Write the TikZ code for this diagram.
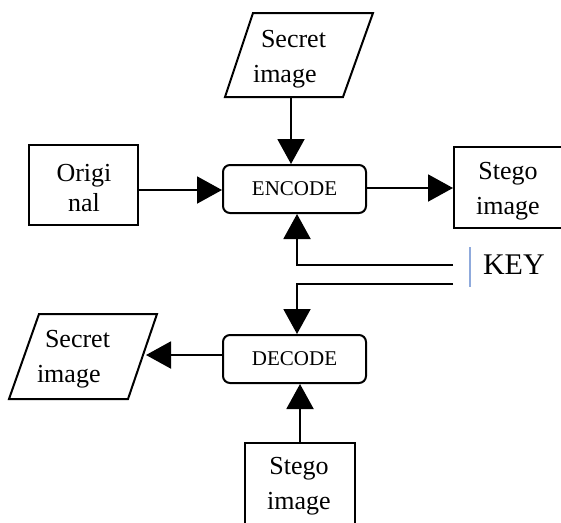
\documentclass[tikz,border=0pt]{standalone}
\usepackage{fontspec}
\setmainfont{Liberation Serif}
\usetikzlibrary{arrows.meta}
\definecolor{keyblue}{RGB}{143,170,220}
\begin{document}
\begin{tikzpicture}[x=1pt,y=1pt,line width=2pt,
  arr/.style={-{Triangle[length=25pt,width=27pt]}},
  proc/.style={draw, rounded corners=7pt, minimum width=143pt, minimum height=48pt,
    inner sep=0pt, font=\fontsize{21}{25}\selectfont},
  box/.style={draw, inner sep=0pt},
  lbl/.style={inner sep=0pt, font=\fontsize{26}{35}\selectfont},
  keyline/.style={draw=keyblue, line width=1.5pt}]
\useasboundingbox (0,0) rectangle (561,-522);
\clip (0,0) rectangle (561,-522);

% process boxes
\node[proc] (enc) at (294.5,-189) {ENCODE};
\node[proc] (dec) at (294.5,-359) {DECODE};

% input / output boxes
\node[box, minimum width=109pt, minimum height=80pt] (orig) at (83.5,-185) {};
\node[lbl, align=center, font=\fontsize{26}{30}\selectfont] (origtxt) at (84,-188.5) {Origi\\nal};

\node[box, minimum width=112pt, minimum height=81pt] (stegoA) at (510,-187.5) {};
\node[lbl, align=center] (stegoAtxt) at (508,-191.5) {Stego\\image};

\node[box, minimum width=110pt, minimum height=100pt] (stegoB) at (300,-493) {};
\node[lbl, align=center] (stegoBtxt) at (299,-486.5) {Stego\\image};

% parallelogram: secret image in
\draw (253,-13) -- (373,-13) -- (343,-97) -- (225,-97) -- cycle;
\node[lbl, align=left] (secA) at (289.5,-59) {\hspace{8pt}Secret\\image};
\coordinate (secAout) at (291,-97);

% parallelogram: secret image out
\draw (39,-314) -- (157,-314) -- (128,-399) -- (9,-399) -- cycle;
\node[lbl, align=left] (secB) at (73.5,-359.5) {\hspace{8pt}Secret\\image};
\coordinate (secBin) at (146,-355);

% key
\node[inner sep=0pt, anchor=west, font=\fontsize{30}{36}\selectfont] (key) at (482,-265) {KEY};
\coordinate (keyA) at (453,-265);
\coordinate (keyB) at (453,-284);
\draw[keyline] (470,-247) -- (470,-287);

% connectors
\draw[arr] (secAout) -- (secAout |- enc.north);
\draw[arr] (orig.east |- 0,-190) -- (enc.west |- 0,-190);
\draw[arr] (enc.east |- 0,-188) -- (stegoA.west |- 0,-188);
\draw[arr] (keyA) -| (enc.south -| 297,0);
\draw[arr] (keyB) -| (dec.north -| 297,0);
\draw[arr] (dec.west |- 0,-355) -- (secBin);
\draw[arr] (stegoB.north -| 300,0) -- (dec.south -| 300,0);
\end{tikzpicture}
\end{document}
